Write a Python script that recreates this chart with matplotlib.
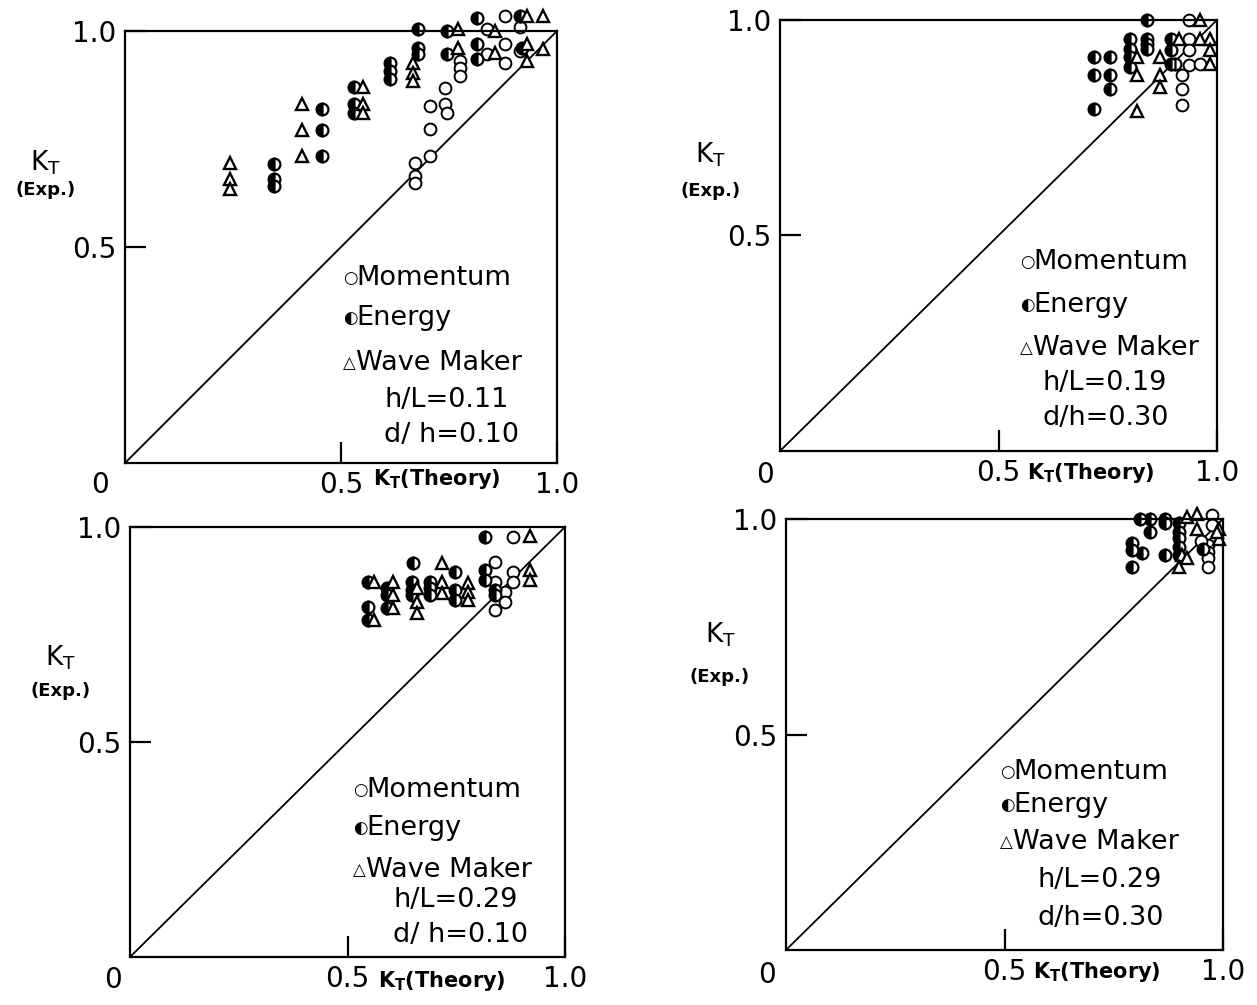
import matplotlib.pyplot as plt

plt.rcParams['font.family'] = ['DejaVu Sans']

# ---- data: (K_T theory, K_T exp.) per method, four cases ----
# case 1: h/L=0.11, d/h=0.10
mom1_x = [0.671, 0.671, 0.671, 0.706, 0.706, 0.706, 0.741, 0.741, 0.745, 0.775, 0.775, 0.775, 0.838, 0.838, 0.88, 0.88, 0.88, 0.915, 0.915]
mom1_y = [0.695, 0.665, 0.647, 0.711, 0.774, 0.827, 0.868, 0.831, 0.81, 0.93, 0.915, 0.896, 1.005, 0.947, 1.035, 0.97, 0.926, 1.01, 0.953]
ene1_x = [0.345, 0.345, 0.345, 0.456, 0.456, 0.456, 0.53, 0.53, 0.53, 0.613, 0.613, 0.613, 0.678, 0.678, 0.678, 0.745, 0.745, 0.815, 0.815, 0.815, 0.915, 0.92]
ene1_y = [0.693, 0.658, 0.642, 0.82, 0.77, 0.71, 0.87, 0.83, 0.81, 0.926, 0.908, 0.889, 1.005, 0.961, 0.947, 1.0, 0.947, 1.03, 0.97, 0.935, 1.035, 0.96]
wav1_x = [0.243, 0.243, 0.243, 0.41, 0.41, 0.41, 0.55, 0.55, 0.55, 0.667, 0.667, 0.667, 0.77, 0.77, 0.856, 0.856, 0.93, 0.93, 0.93, 0.968, 0.968]
wav1_y = [0.695, 0.658, 0.635, 0.83, 0.77, 0.71, 0.87, 0.83, 0.81, 0.926, 0.903, 0.885, 1.005, 0.96, 1.0, 0.95, 1.035, 0.97, 0.93, 1.035, 0.958]

# case 2: h/L=0.19, d/h=0.30
mom2_x = [0.937, 0.937, 0.937, 0.937, 0.92, 0.92, 0.92, 0.962]
mom2_y = [1.0, 0.956, 0.93, 0.896, 0.873, 0.84, 0.803, 0.898]
ene2_x = [0.84, 0.80, 0.80, 0.80, 0.80, 0.84, 0.84, 0.84, 0.718, 0.718, 0.718, 0.755, 0.755, 0.755, 0.894, 0.894, 0.894, 0.903]
ene2_y = [1.0, 0.956, 0.933, 0.914, 0.891, 0.956, 0.944, 0.933, 0.914, 0.873, 0.794, 0.914, 0.873, 0.84, 0.956, 0.93, 0.898, 0.898]
wav2_x = [0.96, 0.818, 0.818, 0.818, 0.87, 0.87, 0.87, 0.913, 0.96, 0.983, 0.983, 0.983]
wav2_y = [1.0, 0.914, 0.873, 0.79, 0.914, 0.873, 0.845, 0.956, 0.956, 0.956, 0.93, 0.898]

# case 3: h/L=0.29, d/h=0.10
mom3_x = [0.88, 0.839, 0.84, 0.863, 0.863, 0.84, 0.88, 0.88]
mom3_y = [0.977, 0.918, 0.872, 0.849, 0.826, 0.807, 0.895, 0.872]
ene3_x = [0.816, 0.65, 0.747, 0.547, 0.547, 0.547, 0.59, 0.59, 0.59, 0.648, 0.648, 0.648, 0.69, 0.69, 0.69, 0.747, 0.747, 0.816, 0.816, 0.84, 0.84]
ene3_y = [0.977, 0.916, 0.895, 0.872, 0.814, 0.784, 0.858, 0.842, 0.812, 0.872, 0.853, 0.842, 0.872, 0.858, 0.842, 0.853, 0.83, 0.9, 0.877, 0.853, 0.842]
wav3_x = [0.92, 0.717, 0.56, 0.56, 0.605, 0.605, 0.605, 0.66, 0.66, 0.66, 0.717, 0.717, 0.777, 0.777, 0.777, 0.92, 0.92]
wav3_y = [0.98, 0.916, 0.872, 0.784, 0.872, 0.842, 0.812, 0.858, 0.826, 0.80, 0.872, 0.847, 0.87, 0.849, 0.83, 0.9, 0.877]

# case 4: h/L=0.29, d/h=0.30
mom4_x = [0.975, 0.975, 0.966, 0.966, 0.966, 0.966, 0.95]
mom4_y = [1.01, 0.986, 0.94, 0.923, 0.91, 0.889, 0.95]
ene4_x = [0.81, 0.833, 0.867, 0.867, 0.833, 0.792, 0.792, 0.815, 0.792, 0.867, 0.90, 0.90, 0.90, 0.90, 0.90, 0.955]
ene4_y = [1.0, 1.0, 1.0, 0.99, 0.97, 0.944, 0.928, 0.921, 0.889, 0.916, 0.99, 0.97, 0.956, 0.935, 0.916, 0.93]
wav4_x = [0.918, 0.941, 0.941, 0.906, 0.918, 0.90, 0.99, 0.99, 0.987]
wav4_y = [1.005, 1.012, 0.976, 0.916, 0.91, 0.889, 0.976, 0.954, 0.97]

diag = [0.0, 1.0]

panels = [
    dict(rect=[125, 31, 432, 432], mom=(mom1_x, mom1_y), ene=(ene1_x, ene1_y), wav=(wav1_x, wav1_y),
         hl='h/L=0.11', dh='d/ h=0.10', leg_x=0.505, leg_y=[0.428, 0.336, 0.231, 0.145, 0.065],
         par_x=0.60, ky=(0.694, 0.632), kx=-0.185, zero=(-0.058, -0.05), th=(0.575, -0.037)),
    dict(rect=[780, 20, 437, 431], mom=(mom2_x, mom2_y), ene=(ene2_x, ene2_y), wav=(wav2_x, wav2_y),
         hl='h/L=0.19', dh='d/h=0.30', leg_x=0.55, leg_y=[0.438, 0.339, 0.239, 0.158, 0.077],
         par_x=0.60, ky=(0.687, 0.603), kx=-0.16, zero=(-0.034, -0.056), th=(0.565, -0.05)),
    dict(rect=[130, 527, 435, 430], mom=(mom3_x, mom3_y), ene=(ene3_x, ene3_y), wav=(wav3_x, wav3_y),
         hl='h/L=0.29', dh='d/ h=0.10', leg_x=0.513, leg_y=[0.388, 0.30, 0.202, 0.133, 0.051],
         par_x=0.605, ky=(0.695, 0.619), kx=-0.16, zero=(-0.04, -0.053), th=(0.57, -0.055)),
    dict(rect=[786, 519, 437, 431], mom=(mom4_x, mom4_y), ene=(ene4_x, ene4_y), wav=(wav4_x, wav4_y),
         hl='h/L=0.29', dh='d/h=0.30', leg_x=0.49, leg_y=[0.413, 0.336, 0.25, 0.162, 0.074],
         par_x=0.575, ky=(0.731, 0.633), kx=-0.151, zero=(-0.043, -0.058), th=(0.565, -0.05)),
]

W, H = 1257, 1005
fig = plt.figure(figsize=(W / 100, H / 100), dpi=100)

for p in panels:
    l, t, w, h = p['rect']
    ax = fig.add_axes([l / W, 1 - (t + h) / H, w / W, h / H])
    ax.set_xlim(0, 1)
    ax.set_ylim(0, 1)
    for s in ax.spines.values():
        s.set_linewidth(1.6)
    ax.plot(diag, diag, color='black', lw=1.3)

    ax.plot(*p['mom'], 'o', ls='none', ms=8.5, mfc='white', mec='black', mew=1.4, clip_on=False)
    ax.plot(*p['ene'], 'o', ls='none', ms=8.5, fillstyle='left', mfc='black', mfcalt='white',
            mec='black', mew=1.6, clip_on=False)
    ax.plot(*p['wav'], '^', ls='none', ms=8.5, mfc='white', mec='black', mew=1.7, clip_on=False)

    ax.set_xticks([0.5, 1.0])
    ax.set_xticklabels(['0.5', '1.0'])
    ax.set_yticks([0.5, 1.0])
    ax.set_yticklabels(['0.5', '1.0'])
    ax.tick_params(direction='in', length=15, width=1.6, labelsize=20, pad=6)

    ax.text(*p['zero'], '0', transform=ax.transAxes, fontsize=20, ha='center', va='center')
    ax.text(p['kx'], p['ky'][0], r'K$_\mathregular{T}$', transform=ax.transAxes, fontsize=19,
            ha='center', va='center')
    ax.text(p['kx'], p['ky'][1], '(Exp.)', transform=ax.transAxes, fontsize=13,
            ha='center', va='center', fontweight='bold')
    ax.text(p['th'][0], p['th'][1], r'K$_\mathregular{T}$(Theory)', transform=ax.transAxes,
            fontsize=15, ha='left', va='center', fontweight='bold')

    lx = p['leg_x']
    ly = p['leg_y']
    for sym, name, yy in zip(['○', '◐', '△'], ['Momentum', 'Energy', 'Wave Maker'], ly[:3]):
        ax.text(lx, yy, sym, transform=ax.transAxes, fontsize=12, ha='left', va='center')
        ax.text(lx + 0.03, yy, name, transform=ax.transAxes, fontsize=19.5, ha='left', va='center')
    ax.text(p['par_x'], ly[3], p['hl'], transform=ax.transAxes, fontsize=19.5, ha='left', va='center')
    ax.text(p['par_x'], ly[4], p['dh'], transform=ax.transAxes, fontsize=19.5, ha='left', va='center')

fig.savefig('out.png', dpi=100)
